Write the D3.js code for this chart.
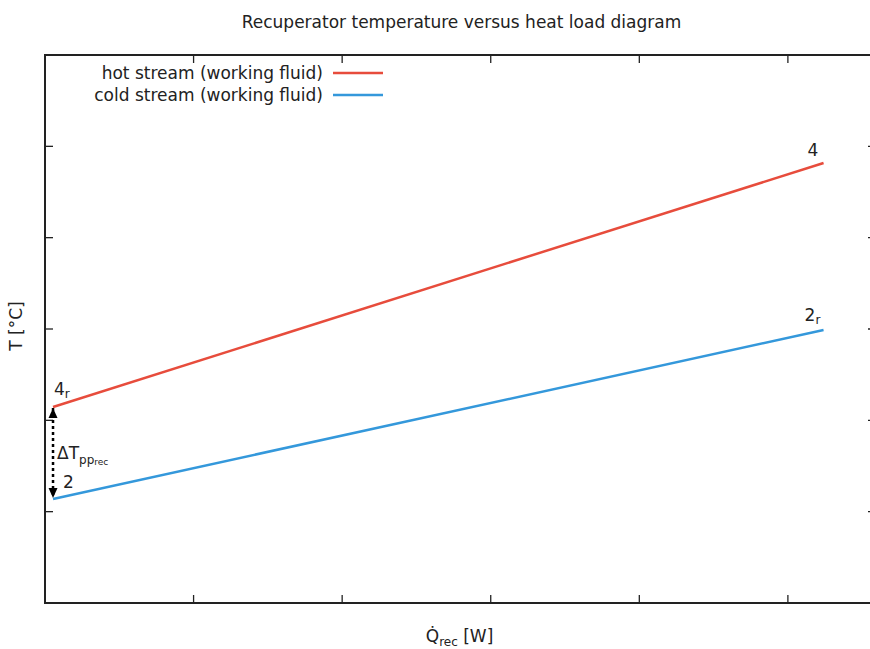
<!DOCTYPE html>
<html>
<head>
<meta charset="utf-8">
<script src="https://cdn.jsdelivr.net/npm/d3@7"></script>
<style>
  html, body { margin: 0; padding: 0; background: #fff; }
  svg { display: block; font-family: "DejaVu Sans", sans-serif; }
</style>
</head>
<body>
<svg id="chart" width="870" height="649"></svg>
<script>
// Heat load (arbitrary units) and temperature (arbitrary units) of each stream end
const heatLoad = [0.054, 5.24];
const hotTemp = [2.146, 4.818];
const coldTemp = [1.139, 2.989];

const xTicks = [0, 1, 2, 3, 4, 5];
const yTicks = [0, 1, 2, 3, 4, 5, 6];

const seriesNames = ["hot stream (working fluid)", "cold stream (working fluid)"];
const seriesColors = ["#e74c3c", "#3498db"];

const svg = d3.select("#chart");
const margin = { left: 45, top: 55, right: 876, bottom: 603 };

const x = d3.scaleLinear().domain([0, 5.593]).range([margin.left, margin.right]);
const y = d3.scaleLinear().domain([0, 6]).range([margin.bottom, margin.top]);

const axisColor = "#222";
const tickLen = 8;

// Ticks on all four sides, no labels
const g = svg.append("g");
xTicks.forEach(t => {
  if (t === 0) return;
  g.append("line").attr("x1", x(t)).attr("x2", x(t))
    .attr("y1", margin.bottom).attr("y2", margin.bottom - tickLen)
    .attr("stroke", axisColor).attr("stroke-width", 1.3);
  g.append("line").attr("x1", x(t)).attr("x2", x(t))
    .attr("y1", margin.top).attr("y2", margin.top + tickLen)
    .attr("stroke", axisColor).attr("stroke-width", 1.3);
});
yTicks.forEach(t => {
  if (t === 0 || t === 6) return;
  g.append("line").attr("x1", margin.left).attr("x2", margin.left + tickLen)
    .attr("y1", y(t)).attr("y2", y(t))
    .attr("stroke", axisColor).attr("stroke-width", 1.3);
  g.append("line").attr("x1", margin.right).attr("x2", margin.right - tickLen)
    .attr("y1", y(t)).attr("y2", y(t))
    .attr("stroke", axisColor).attr("stroke-width", 1.3);
});

// Plot frame
svg.append("rect")
  .attr("x", margin.left).attr("y", margin.top)
  .attr("width", margin.right - margin.left).attr("height", margin.bottom - margin.top)
  .attr("fill", "none").attr("stroke", axisColor).attr("stroke-width", 2);

// Stream lines
const line = d3.line().x(d => x(d[0])).y(d => y(d[1]));
const hotPts = heatLoad.map((q, i) => [q, hotTemp[i]]);
const coldPts = heatLoad.map((q, i) => [q, coldTemp[i]]);
svg.append("path").datum(hotPts).attr("d", line)
  .attr("fill", "none").attr("stroke", seriesColors[0]).attr("stroke-width", 2.5);
svg.append("path").datum(coldPts).attr("d", line)
  .attr("fill", "none").attr("stroke", seriesColors[1]).attr("stroke-width", 2.5);

// Pinch point arrow between the cold ends
const defs = svg.append("defs");
["ah", "ahs"].forEach((id, i) => {
  defs.append("marker").attr("id", id).attr("viewBox", "0 0 10 10")
    .attr("refX", 10).attr("refY", 5).attr("markerWidth", 10).attr("markerHeight", 10)
    .attr("markerUnits", "userSpaceOnUse")
    .attr("orient", i === 0 ? "auto" : "auto-start-reverse")
    .append("path").attr("d", "M0,0.5 L10,5 L0,9.5 z").attr("fill", "#000");
});

const ax = x(heatLoad[0]);
svg.append("line")
  .attr("x1", ax).attr("x2", ax)
  .attr("y1", y(hotTemp[0]) + 1).attr("y2", y(coldTemp[0]) - 1)
  .attr("stroke", "#000").attr("stroke-width", 2.5).attr("stroke-dasharray", "3,3")
  .attr("marker-start", "url(#ahs)").attr("marker-end", "url(#ah)");

const fs = 17;
const txt = (px, py, anchor) => svg.append("text")
  .attr("x", px).attr("y", py).attr("text-anchor", anchor || "start")
  .attr("font-size", fs).attr("fill", "#222");

// Point labels
const l4r = txt(x(heatLoad[0]) + 1, y(hotTemp[0]) - 12);
l4r.append("tspan").text("4");
l4r.append("tspan").attr("font-size", 12).attr("dy", 3).text("r");

txt(x(heatLoad[0]) + 10, y(coldTemp[0]) - 11).text("2");

txt(x(heatLoad[1]) - 16, y(hotTemp[1]) - 7).text("4");

const l2r = txt(x(heatLoad[1]) - 19, y(coldTemp[1]) - 9);
l2r.append("tspan").text("2");
l2r.append("tspan").attr("font-size", 12).attr("dy", 3).text("r");

const dT = txt(x(heatLoad[0]) + 4, (y(hotTemp[0]) + y(coldTemp[0])) / 2 + 6);
dT.append("tspan").text("ΔT");
dT.append("tspan").attr("font-size", 12).attr("dy", 5).text("pp");
dT.append("tspan").attr("font-size", 9).attr("dy", 1).text("rec");

// Title
txt((margin.left + margin.right) / 2 + 1, 28, "middle").text("Recuperator temperature versus heat load diagram");

// Axis labels
const xl = txt((margin.left + margin.right) / 2 - 1, 642, "middle");
xl.append("tspan").text("Q̇");
xl.append("tspan").attr("font-size", 12).attr("dy", 4).text("rec");
xl.append("tspan").attr("dy", -4).text(" [W]");

svg.append("text")
  .attr("transform", `translate(22, ${(margin.top + margin.bottom) / 2 - 3}) rotate(-90)`)
  .attr("text-anchor", "middle").attr("font-size", fs).attr("fill", "#222")
  .text("T [°C]");

// Legend
seriesNames.forEach((name, i) => {
  const ly = 73 + i * 22;
  txt(323, ly + 6, "end").text(name);
  svg.append("line").attr("x1", 333).attr("x2", 383).attr("y1", ly).attr("y2", ly)
    .attr("stroke", seriesColors[i]).attr("stroke-width", 2.5);
});
</script>
</body>
</html>
